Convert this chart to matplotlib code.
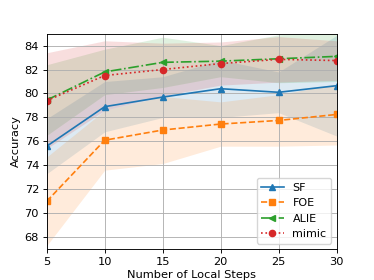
import numpy as np
import matplotlib
matplotlib.use("Agg")
import matplotlib.pyplot as plt

steps = [5, 10, 15, 20, 25, 30]

# mean accuracy per method
sf = [75.6, 78.9, 79.7, 80.4, 80.1, 80.65]
foe = [71.0, 76.1, 76.95, 77.45, 77.75, 78.25]
alie = [79.45, 81.8, 82.6, 82.7, 82.9, 83.1]
mimic = [79.4, 81.5, 82.0, 82.5, 82.85, 82.75]

# std for the shaded bands
sf_std = [2.3, 2.1, 1.7, 2.4, 1.7, 4.2]
foe_std = [3.7, 2.5, 2.8, 1.85, 2.15, 2.55]
alie_std = [2.95, 1.9, 2.1, 1.3, 2.0, 2.1]
mimic_std = [4.0, 2.9, 2.2, 1.8, 1.9, 1.65]

plt.rcParams['font.size'] = 8.2
plt.rcParams['axes.linewidth'] = 0.65
plt.rcParams['grid.linewidth'] = 0.65
for a in ('xtick', 'ytick'):
    plt.rcParams[a + '.major.size'] = 2.8
    plt.rcParams[a + '.major.width'] = 0.65
    plt.rcParams[a + '.major.pad'] = 2.8

fig, ax = plt.subplots(figsize=(3.74, 2.8), dpi=100)
fig.subplots_adjust(left=0.125, right=0.9, bottom=0.11, top=0.88)

series = [
    ("SF", sf, sf_std, "tab:blue", "^", "-"),
    ("FOE", foe, foe_std, "tab:orange", "s", "--"),
    ("ALIE", alie, alie_std, "tab:green", "<", "-."),
    ("mimic", mimic, mimic_std, "tab:red", "o", ":"),
]

for name, y, sd, c, m, ls in series:
    y = np.array(y)
    sd = np.array(sd)
    ax.plot(steps, y, color=c, marker=m, linestyle=ls, markersize=4.5, linewidth=1.2, label=name)
    ax.fill_between(steps, y - sd, y + sd, color=c, alpha=0.15, linewidth=0)

ax.set_xlim(5, 30)
ax.set_ylim(67, 85)
ax.set_yticks([68, 70, 72, 74, 76, 78, 80, 82, 84])
ax.grid(True)
ax.set_xlabel("Number of Local Steps", labelpad=2.5)
ax.set_ylabel("Accuracy", labelpad=2.5)
ax.legend(loc="lower right", fontsize=8)

plt.savefig("out.png")
